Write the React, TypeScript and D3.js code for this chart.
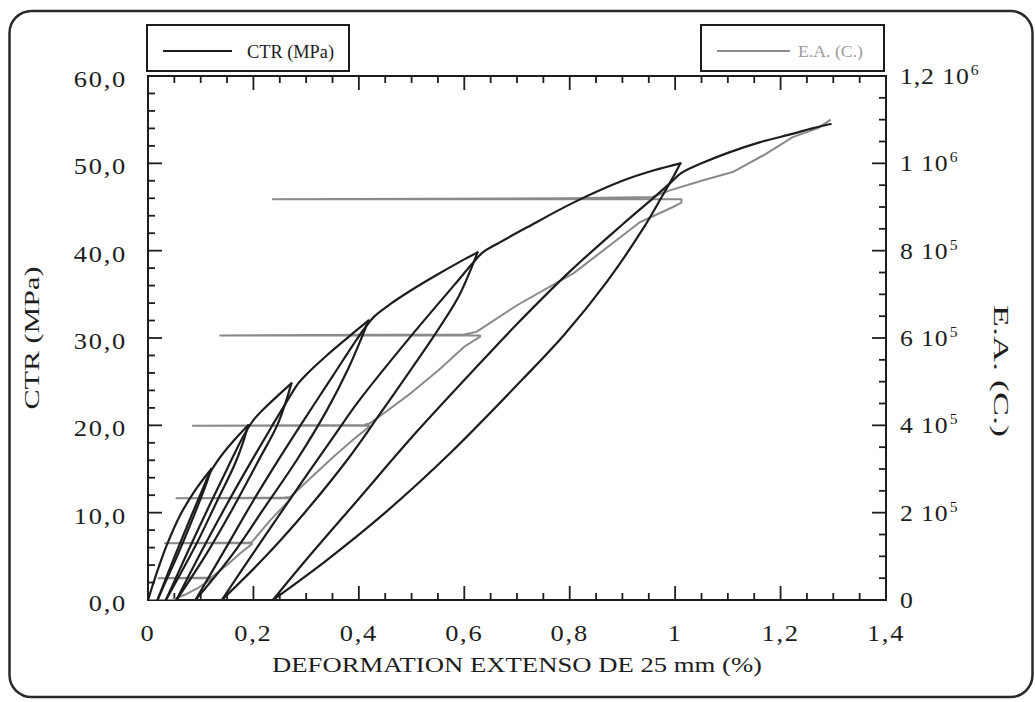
import React from "react";
import * as d3 from "d3";

type P = [number, number];

// ---- CTR (MPa) vs strain (%) : loading envelope + unloading / reloading branches
const ctrLoad0: P[] = [[0, 0], [0.01, 1.9], [0.02, 3.7], [0.035, 6.2], [0.06, 9.6], [0.09, 12.6], [0.12, 15]];
const ctrUnload1: P[] = [[0.12, 15], [0.11, 13.2], [0.09, 10.1], [0.06, 5.7], [0.035, 2.3], [0.018, 0]];
const ctrReload1: P[] = [[0.018, 0], [0.05, 4.9], [0.08, 9.3], [0.105, 12.9], [0.116, 14.4], [0.125, 15.3], [0.14, 16.6], [0.165, 18.4], [0.19, 20]];
const ctrUnload2: P[] = [[0.19, 20], [0.18, 18], [0.165, 15.6], [0.13, 11.2], [0.09, 6.2], [0.034, 0]];
const ctrReload2: P[] = [[0.034, 0], [0.07, 4.8], [0.11, 10], [0.15, 15], [0.175, 18.1], [0.186, 19.3], [0.2, 20.6], [0.22, 21.9], [0.25, 23.6], [0.272, 24.8]];
const ctrUnload3: P[] = [[0.272, 24.8], [0.262, 22.8], [0.245, 20], [0.21, 16], [0.16, 10.4], [0.11, 5.2], [0.054, 0]];
const ctrReload3: P[] = [[0.054, 0], [0.1, 5.4], [0.15, 11], [0.2, 16.3], [0.235, 19.9], [0.26, 22.4], [0.272, 23.6], [0.285, 24.8], [0.3, 25.8], [0.339, 28.0], [0.38, 30.1], [0.418, 32]];
const ctrUnload4: P[] = [[0.418, 32], [0.405, 30], [0.38, 26.5], [0.34, 21.8], [0.282, 16], [0.22, 10.5], [0.16, 5.2], [0.09, 0]];
const ctrReload4: P[] = [[0.09, 0], [0.15, 6.2], [0.2, 11.4], [0.25, 16.3], [0.3, 21], [0.35, 25.6], [0.39, 29.3], [0.412, 31.2], [0.43, 32.5], [0.46, 33.9], [0.5, 35.5], [0.55, 37.3], [0.6, 39], [0.625, 39.8]];
const ctrUnload5: P[] = [[0.625, 39.8], [0.612, 37.8], [0.588, 34.6], [0.541, 30.1], [0.5, 26.5], [0.44, 21.3], [0.38, 16.2], [0.3, 10.2], [0.22, 4.8], [0.14, 0]];
const ctrReload5: P[] = [[0.14, 0], [0.2, 5.4], [0.3, 14.2], [0.36, 19.4], [0.4, 22.8], [0.5, 30.3], [0.58, 36], [0.615, 38.5], [0.635, 39.8], [0.66, 40.7], [0.72, 42.7], [0.807, 45.5], [0.9, 48], [0.96, 49.2], [1.01, 50]];
const ctrUnload6: P[] = [[1.01, 50], [0.996, 48.4], [0.975, 46.2], [0.94, 42.6], [0.87, 36.4], [0.79, 30.4], [0.711, 25.3], [0.573, 16.8], [0.45, 10], [0.34, 4.6], [0.237, 0]];
const ctrReload6: P[] = [[0.237, 0], [0.3, 4.6], [0.4, 11.6], [0.5, 18.6], [0.605, 25.5], [0.7, 31.6], [0.8, 37.6], [0.9, 43], [0.96, 46.1], [0.99, 47.7], [1.012, 48.9], [1.05, 50.0], [1.1, 51.2], [1.16, 52.4], [1.224, 53.4], [1.26, 54], [1.295, 54.5]];

const ctrBranches: P[][] = [
  ctrLoad0, ctrUnload1, ctrReload1, ctrUnload2, ctrReload2, ctrUnload3, ctrReload3,
  ctrUnload4, ctrReload4, ctrUnload5, ctrReload5, ctrUnload6, ctrReload6,
];

// ---- E.A. (cumulated counts) vs strain (%)
const eaCounts: P[] = [
  [0, 0], [0.045, 0], [0.07, 12000], [0.095, 28000], [0.121, 48000], [0.121, 50000], [0.02, 50000], [0.115, 51500], [0.121, 52500],
  [0.15, 80000], [0.175, 107000], [0.197, 128000], [0.197, 130000], [0.032, 130000], [0.19, 131500], [0.197, 132500],
  [0.23, 180000], [0.27, 231000], [0.27, 233000], [0.054, 233000], [0.26, 234500], [0.27, 236000],
  [0.31, 281000], [0.352, 328000], [0.39, 368000], [0.42, 397000], [0.42, 399000], [0.085, 399000], [0.41, 401000], [0.42, 404000],
  [0.45, 430000], [0.5, 475000], [0.55, 525000], [0.6, 580000], [0.63, 603000], [0.63, 606000], [0.137, 606000], [0.6, 608000], [0.623, 614000],
  [0.7, 675000], [0.807, 748000], [0.933, 865000], [0.996, 900000], [1.012, 910000], [1.012, 918000], [0.237, 918000], [0.8, 920000], [0.957, 923000],
  [0.99, 938000], [1.05, 960000], [1.109, 980000], [1.17, 1020000], [1.223, 1060000], [1.27, 1080000], [1.295, 1100000],
];

// ---- ticks
const xMajorTicks = [0, 0.2, 0.4, 0.6, 0.8, 1.0, 1.2, 1.4];
const xTickLabels = ["0", "0,2", "0,4", "0,6", "0,8", "1", "1,2", "1,4"];
const xMinorStep = 0.05;
const yLeftTicks = [0, 10, 20, 30, 40, 50, 60];
const yLeftLabels = ["0,0", "10,0", "20,0", "30,0", "40,0", "50,0", "60,0"];
const yLeftMinorStep = 2;
const yRightTicks = [0, 200000, 400000, 600000, 800000, 1000000, 1200000];
const yRightLabels = ["0", "2 10", "4 10", "6 10", "8 10", "1 10", "1,2 10"];
const yRightExponents = ["", "5", "5", "5", "5", "6", "6"];
const yRightMinorStep = 50000;

const INK = "#1d1d1d";
const GRAY = "#8a8a8a";
const FONT = "'Liberation Serif', 'Times New Roman', serif";

export default function App() {
  const L = 148, R = 886, T = 76, B = 600;
  const x = d3.scaleLinear().domain([0, 1.4]).range([L, R]);
  const yL = d3.scaleLinear().domain([0, 60]).range([B, T]);
  const yR = d3.scaleLinear().domain([0, 1200000]).range([B, T]);

  const ctrLine = d3.line<P>().x(d => x(d[0])).y(d => yL(d[1])).curve(d3.curveCatmullRom.alpha(0.5));
  const eaLine = d3.line<P>().x(d => x(d[0])).y(d => yR(d[1])).curve(d3.curveLinear);

  const xMinor = d3.range(0, 1.4 + 1e-9, xMinorStep);
  const yLMinor = d3.range(0, 60 + 1e-9, yLeftMinorStep);
  const yRMinor = d3.range(0, 1200000 + 1, yRightMinorStep);

  const MAJ = 14, MIN = 7;
  const tickStroke = { stroke: INK, strokeWidth: 1.8 };

  return (
    <svg width={1035} height={702} style={{ position: "absolute", left: 0, top: 0, background: "#fff" }} fontFamily={FONT}>
      <rect x={0} y={0} width={1035} height={702} fill="#fff" />
      {/* outer rounded frame */}
      <rect x={9.5} y={11} width={1023} height={686} rx={22} ry={22} fill="none" stroke="#2a2a2a" strokeWidth={2.5} />

      {/* legends */}
      <rect x={147} y={25} width={202} height={46} fill="#fff" stroke={INK} strokeWidth={2} />
      <line x1={163} x2={232} y1={51} y2={51} stroke={INK} strokeWidth={2} />
      <text x={247} y={58} fontSize={18} fill={INK} textLength={87} lengthAdjust="spacingAndGlyphs">CTR (MPa)</text>
      <rect x={701} y={25} width={183} height={46} fill="#fff" stroke={INK} strokeWidth={2} />
      <line x1={717} x2={790} y1={51} y2={51} stroke={GRAY} strokeWidth={2} />
      <text x={798} y={57} fontSize={16} fill="#9a9a9a" textLength={65} lengthAdjust="spacingAndGlyphs">E.A. (C.)</text>

      {/* plot frame */}
      <rect x={L} y={T} width={R - L} height={B - T} fill="none" stroke={INK} strokeWidth={2} />

      {/* x ticks bottom & top */}
      {xMinor.map((v, i) => {
        const major = xMajorTicks.some(m => Math.abs(m - v) < 1e-6);
        const len = major ? MAJ : MIN;
        return (
          <g key={"xm" + i}>
            <line x1={x(v)} x2={x(v)} y1={B} y2={B - len} {...tickStroke} />
            <line x1={x(v)} x2={x(v)} y1={T} y2={T + len} {...tickStroke} />
          </g>
        );
      })}
      {/* left ticks */}
      {yLMinor.map((v, i) => {
        const major = yLeftTicks.includes(Math.round(v));
        return <line key={"yl" + i} x1={L} x2={L + (major ? MAJ : MIN)} y1={yL(v)} y2={yL(v)} {...tickStroke} />;
      })}
      {/* right ticks */}
      {yRMinor.map((v, i) => {
        const major = yRightTicks.some(m => Math.abs(m - v) < 1);
        return <line key={"yr" + i} x1={R} x2={R - (major ? MAJ : MIN)} y1={yR(v)} y2={yR(v)} {...tickStroke} />;
      })}

      {/* x tick labels */}
      {xMajorTicks.map((v, i) => (
        <text key={"xl" + i} transform={`translate(${x(v)},${B + 41}) scale(1.15,1)`} textAnchor="middle" fontSize={23} letterSpacing={1.5} fill={INK}>
          {xTickLabels[i]}
        </text>
      ))}
      {/* left tick labels */}
      {yLeftTicks.map((v, i) => (
        <text key={"yll" + i} transform={`translate(${L - 21},${yL(v) + 11}) scale(1.15,1)`} textAnchor="end" fontSize={23} letterSpacing={1.5} fill={INK}>
          {yLeftLabels[i]}
        </text>
      ))}
      {/* right tick labels */}
      {yRightTicks.map((v, i) => (
        <text key={"yrl" + i} transform={`translate(${R + 14},${yR(v) + 8}) scale(1.12,1)`} textAnchor="start" fontSize={23} letterSpacing={0.8} fill={INK}>
          {yRightLabels[i]}
          {yRightExponents[i] && (
            <tspan fontSize={14} dy={-9} dx={1}>{yRightExponents[i]}</tspan>
          )}
        </text>
      ))}

      {/* axis titles */}
      <text x={517} y={672} textAnchor="middle" fontSize={22} fill={INK} textLength={490} lengthAdjust="spacingAndGlyphs">
        DEFORMATION EXTENSO DE 25 mm (%)
      </text>
      <text transform={`translate(39,338) rotate(-90)`} textAnchor="middle" fontSize={22} fill={INK} textLength={143} lengthAdjust="spacingAndGlyphs">
        CTR (MPa)
      </text>
      <text transform={`translate(994,371) rotate(90)`} textAnchor="middle" fontSize={22} fill={INK} textLength={132} lengthAdjust="spacingAndGlyphs">
        E.A. (C.)
      </text>

      {/* data */}
      <g clipPath="url(#plotclip)">
        <path d={eaLine(eaCounts) || ""} fill="none" stroke={GRAY} strokeWidth={2} strokeLinejoin="round" />
        {ctrBranches.map((b, i) => (
          <path key={"c" + i} d={ctrLine(b) || ""} fill="none" stroke={INK} strokeWidth={2.2} strokeLinejoin="round" strokeLinecap="round" />
        ))}
      </g>
      <defs>
        <clipPath id="plotclip">
          <rect x={L} y={T} width={R - L} height={B - T} />
        </clipPath>
      </defs>
    </svg>
  );
}
